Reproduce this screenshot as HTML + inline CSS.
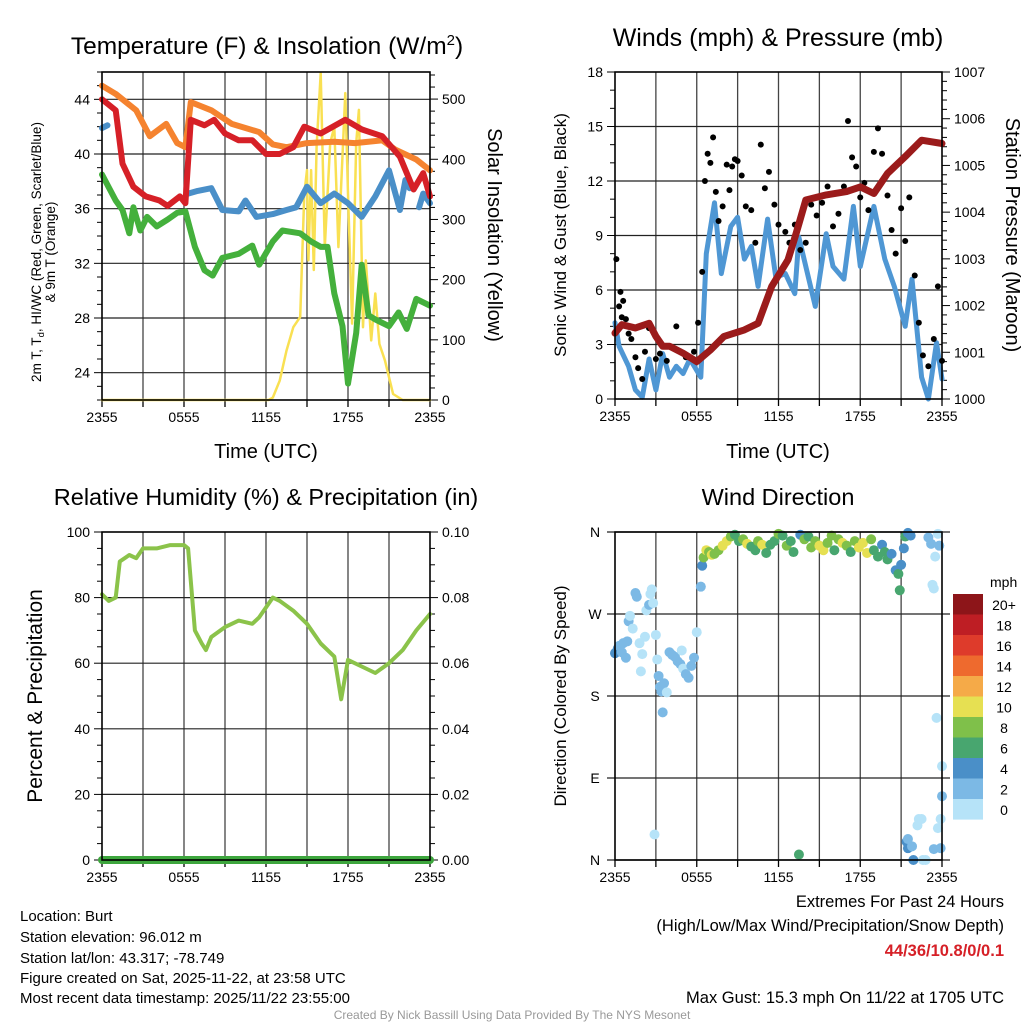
<!DOCTYPE html>
<html><head><meta charset="utf-8"><style>
html,body{margin:0;padding:0;background:#fff;}
svg{display:block;font-family:"Liberation Sans",sans-serif;}
</style></head><body>
<svg id="fig" width="1024" height="1024" viewBox="0 0 1024 1024" xmlns="http://www.w3.org/2000/svg">
<g id="layer"></g>
<text x="267" y="54" font-size="24.5" text-anchor="middle">Temperature (F) &amp; Insolation (W/m<tspan dy="-9" font-size="15">2</tspan><tspan dy="9">)</tspan></text>
<text x="778" y="46" font-size="25" text-anchor="middle">Winds (mph) &amp; Pressure (mb)</text>
<text x="266" y="505" font-size="23.5" text-anchor="middle">Relative Humidity (%) &amp; Precipitation (in)</text>
<text x="778" y="505" font-size="23.5" text-anchor="middle">Wind Direction</text>
<text x="266" y="458" font-size="20" text-anchor="middle">Time (UTC)</text>
<text x="778" y="458" font-size="20" text-anchor="middle">Time (UTC)</text>
<text transform="translate(41,252) rotate(-90)" font-size="13.5" text-anchor="middle">2m T, T<tspan dy="3" font-size="9.5">d</tspan><tspan dy="-3">, HI/WC (Red, Green, Scarlet/Blue)</tspan></text>
<text transform="translate(55,252) rotate(-90)" font-size="13.5" text-anchor="middle">&amp; 9m T (Orange)</text>
<text transform="translate(488,235) rotate(90)" font-size="20" text-anchor="middle">Solar Insolation (Yellow)</text>
<text transform="translate(566,235) rotate(-90)" font-size="17" text-anchor="middle">Sonic Wind &amp; Gust (Blue, Black)</text>
<text transform="translate(1006,235) rotate(90)" font-size="20" text-anchor="middle">Station Pressure (Maroon)</text>
<text transform="translate(42,696) rotate(-90)" font-size="21" text-anchor="middle">Percent &amp; Precipitation</text>
<text transform="translate(566,696) rotate(-90)" font-size="17" text-anchor="middle">Direction (Colored By Speed)</text>
<g font-size="15">
<text x="20" y="921">Location: Burt</text>
<text x="20" y="942">Station elevation: 96.012 m</text>
<text x="20" y="963">Station lat/lon: 43.317; -78.749</text>
<text x="20" y="983">Figure created on Sat, 2025-11-22, at 23:58 UTC</text>
<text x="20" y="1003">Most recent data timestamp: 2025/11/22 23:55:00</text>
</g>
<g font-size="16.5" text-anchor="end">
<text x="1004" y="907">Extremes For Past 24 Hours</text>
<text x="1004" y="931">(High/Low/Max Wind/Precipitation/Snow Depth)</text>
<text x="1004" y="956" fill="#d62027" font-weight="bold">44/36/10.8/0/0.1</text>
<text x="1004" y="1003">Max Gust: 15.3 mph On 11/22 at 1705 UTC</text>
</g>
<text x="512" y="1019" font-size="12" fill="#999" text-anchor="middle">Created By Nick Bassill Using Data Provided By The NYS Mesonet</text>
</svg>
<script>
// ---- data ----
const xTickLabels = ["2355","0555","1155","1755","2355"];
const orangeT = [0,1,2.5,3.5,4.7,5.5,6.1,6.5,8,9.5,11.5,12.5,13.5,15,17,18.5,20.5,21.5,23,24];
const orangeV = [45.0,44.4,43.2,41.3,42.2,40.8,40.5,43.8,43.2,42.2,41.6,40.7,40.5,40.8,40.9,40.8,41.0,40.3,39.6,38.8];
const redT = [0,1,1.5,2.3,3.2,4.2,4.8,5.7,6.1,6.5,7.5,8.2,9,10,11,12,13,14,14.8,16,17.8,19,20.5,21.8,22.8,23.5,24];
const redV = [44,43.2,39.3,37.6,36.9,36.6,36.2,36.9,36.4,42.5,42.1,42.5,41.5,41,41,40,40,40.5,42,41.5,42.5,41.8,41.3,39.8,37.4,38.6,36.9];
const blueT = [0,0.4,0.45,6.3,7,8,8.8,10,10.5,11.3,12.5,13.5,14.2,15,16,17,18,19,20,21,21.8,22.2,22.5,22.6,23.2,23.5,24];
const blueV = [41.9,42.1,null,37.1,37.3,37.5,35.9,35.8,36.6,35.4,35.6,35.9,36.1,37.6,36.4,37.1,36.4,35.4,36.9,38.8,35.9,38.1,37.5,null,36.1,37.1,36.4];
const greenT = [0,1,1.5,2,2.3,2.8,3.3,4,4.8,5.5,6.1,6.8,7.5,8.1,8.8,10,11,11.5,12.5,13.2,14.5,15.3,16,16.5,17,17.6,18,18.6,19,19.5,20,21,21.7,22.3,23,24];
const greenV = [38.5,36.6,35.9,34.2,36.1,34.4,35.4,34.7,35.2,35.7,35.8,33.2,31.5,31.1,32.4,32.7,33.3,31.9,33.6,34.4,34.2,33.6,33.2,33.2,29.8,27.4,23.2,26.9,31.9,28.2,27.9,27.4,28.4,27.2,29.4,28.9];
const solarT = [0,12.2,12.5,13,13.5,14,14.5,14.8,15,15.1,15.3,15.5,15.7,16,16.3,16.7,17,17.3,17.8,18,18.3,18.6,18.8,19.1,19.3,19.7,20,20.3,20.7,21.3,22,24];
const solarV = [0,0,4,32,82,121,138,343,382,232,382,216,421,543,254,427,454,254,510,343,127,427,482,121,232,99,177,93,66,10,0,0];
const windT = [0,0.3,1,1.5,2,2.5,3,3.5,4,4.5,5,5.5,6.3,6.7,7.3,7.8,8.5,9,9.5,10,10.5,11.2,11.8,12.5,13.2,13.5,14,14.7,15.5,16,16.8,17.5,18,19,19.8,20.5,21.3,21.8,22.5,23,23.6,24];
const windV = [4.2,2.9,1.8,0.5,0.1,2.2,0.5,2.5,1.2,1.8,1.4,2.2,1.2,8,10.8,6.9,9.5,10,7.7,8.4,6.2,9.9,6.7,6.9,5.8,8.9,7.3,5.1,9.1,7.3,6.6,10.6,7.3,10.6,7.7,6.2,4.0,6.6,1.2,0,3.1,1.1];
const pressT = [0,0.5,1.5,2.5,3,3.5,4,5,6,7,8,9.5,10.5,11.5,12.7,13.3,14,15.5,17,18,19,20,21.3,22.5,24];
const pressV = [1001.41,1001.59,1001.52,1001.62,1001.34,1001.13,1001.13,1000.98,1000.80,1001.05,1001.34,1001.48,1001.62,1002.41,1002.98,1003.55,1004.26,1004.37,1004.44,1004.54,1004.40,1004.83,1005.19,1005.54,1005.47];
const gustT = [0.1,0.3,0.4,0.5,0.6,0.8,1.0,1.2,1.5,1.7,2.0,2.2,2.5,3.0,3.3,3.8,4.5,5.2,5.8,6.1,6.4,6.6,6.8,7.0,7.2,7.4,7.6,7.9,8.2,8.4,8.6,8.8,9.0,9.3,9.6,10.0,10.3,10.7,11.0,11.3,11.7,12.0,12.5,12.8,13.2,13.6,14.0,14.4,14.8,15.2,15.6,16.0,16.4,16.8,17.1,17.4,17.7,18.0,18.3,18.6,19.0,19.3,19.6,20.0,20.3,20.6,21.0,21.3,21.6,22.0,22.3,22.6,23.0,23.4,23.7,24.0];
const gustV = [7.7,5.1,5.9,4.5,5.4,4.4,3.6,3.3,2.3,1.7,1.1,2.6,3.9,2.2,2.5,2.1,4.0,2.3,2.6,4.2,7.0,12.0,13.5,13.0,14.4,11.4,9.8,10.6,12.9,11.5,12.8,13.2,13.1,12.3,10.6,10.4,8.6,14.0,11.6,12.5,10.7,9.6,9.2,8.6,9.6,8.2,8.6,10.7,10.1,10.8,11.7,9.5,10.2,11.7,15.3,13.3,12.8,11.1,11.9,10.4,13.6,14.9,13.5,11.2,9.3,8.0,10.5,8.7,11.1,6.8,4.2,2.4,1.8,3.3,6.2,2.1];
const rhT = [0,0.5,1,1.3,2,2.5,3,4,5,6,6.3,6.8,7.3,7.6,8,9,10,11,11.5,12.5,13,14,15,16,17,17.5,18,19,20,21,22,23,24];
const rhV = [81,79,80,91,93,92,95,95,96,96,95,70,66,64,68,71,73,72,74,80,79,76,72,66,62,49,61,59,57,60,64,70,75];
const precipT = [0,24];
const precipV = [0,0];
const dirT = [0.0,0.2,0.3,0.5,0.6,0.8,0.9,1.0,1.1,1.3,1.5,1.6,1.8,2.0,1.9,2.2,2.3,2.5,2.6,2.7,2.8,2.9,3.0,3.1,3.2,3.3,3.4,3.5,3.6,3.8,4.0,4.2,4.4,4.6,4.8,4.9,5.0,5.2,5.4,5.6,5.8,6.0,6.3,6.4,6.5,6.7,6.9,7.1,7.3,7.6,7.9,8.2,8.5,8.8,9.1,9.4,9.7,10.0,10.3,10.5,10.8,11.1,11.4,11.7,12.0,12.3,12.6,12.9,13.1,13.5,13.6,13.9,14.2,14.4,14.7,15.0,15.3,15.6,15.9,16.1,16.4,16.7,17.0,17.3,17.6,17.9,18.2,18.5,18.8,19.0,19.3,19.6,19.8,20.0,20.3,20.6,20.8,20.9,21.0,21.2,21.3,21.5,21.7,21.4,21.5,21.5,21.8,21.9,22.2,22.3,22.5,22.6,22.8,23.0,23.2,23.3,23.4,23.5,23.6,23.7,23.8,23.9,23.9,24.0,24.0,23.7,23.4];
const dirD = [227,232,235,228,238,222,240,262,268,254,293,289,238,226,207,245,274,280,292,297,282,28,247,220,202,190,185,162,194,184,228,225,223,218,215,230,210,204,200,213,222,250,300,323,332,340,338,335,336,340,345,350,355,357,350,352,347,344,340,350,346,337,346,350,358,356,345,350,338,6,357,352,355,343,350,345,340,348,356,340,352,348,345,338,350,343,348,337,352,340,333,346,338,330,336,318,314,296,324,342,355,359,356,20,13,23,15,0,38,45,45,0,0,354,347,302,298,333,156,358,345,13,45,70,103,35,12];
const dirS = [4,4,3,3,2,2,2,2,1,1,2,2,1,1,1,1,1,2,1,0,0,0,1,1,3,3,2,3,2,1,2,3,2,3,2,1,1,2,3,2,2,1,3,4,8,10,8,10,8,8,10,10,8,6,6,8,10,6,6,8,10,6,6,6,8,6,8,6,6,6,4,8,6,8,8,10,10,8,8,6,8,10,8,6,8,10,10,10,8,6,6,4,6,6,4,4,6,6,4,4,6,5,4,4,4,3,3,5,1,1,0,0,0,3,2,0,0,0,0,1,2,2,1,2,0,0,2];
const speedBins = ["0","2","4","6","8","10","12","14","16","18","20+"];
const speedColors = ["#b6e3f8","#7cb9e5","#4a8fc8","#48a66f","#7fc04a","#e6e052","#f5aa48","#ee6a2e","#de3b2b","#be1e24","#8d1519"];

// ---- helpers ----
const NS="http://www.w3.org/2000/svg";
const layer=document.getElementById('layer');
function mk(tag,attrs,parent){const e=document.createElementNS(NS,tag);for(const k in attrs)e.setAttribute(k,attrs[k]);(parent||layer).appendChild(e);return e;}
function scale(d0,d1,r0,r1){return v=>r0+(v-d0)/(d1-d0)*(r1-r0);}
function pathFrom(T,V,xs,ys){let d="",pen=false;for(let i=0;i<T.length;i++){if(V[i]===null){pen=false;continue;}d+=(pen?"L":"M")+xs(T[i]).toFixed(1)+","+ys(V[i]).toFixed(1);pen=true;}return d;}

function panel(name,L,R,Tp,B){
  const g=mk('g',{});
  
  
  const xs=scale(0,24,L,R);
  for(let i=1;i<8;i++){const x=xs(i*3);const ln=mk('line',{x1:x,x2:x,y1:Tp,y2:B,stroke:"#444","stroke-width":1.3},g);
    }
  for(let i=0;i<=8;i++){const x=xs(i*3);const tk=mk('line',{x1:x,x2:x,y1:B,y2:B+7,stroke:"#000","stroke-width":1.3},g);
    }
  for(let i=0;i<5;i++){const t=mk('text',{x:xs(i*6),y:B+22,"font-size":14,"text-anchor":"middle"},g);t.textContent=xTickLabels[i];
    }
  return {g,xs};
}
function yaxis(g,name,side,L,R,Tp,B,d0,d1,major,minor,fmt,grid){
  const ys=scale(d0,d1,B,Tp);
  const x=side==='left'?L:R, dir=side==='left'?-1:1;
  const start=Math.ceil(d0/minor-1e-9)*minor;
  for(let v=start;v<=d1+1e-9;v+=minor){
    const y=ys(v);const isMaj=Math.abs(v/major-Math.round(v/major))<1e-6;
    const tk=mk('line',{x1:x,x2:x+dir*(isMaj?8:5),y1:y,y2:y,stroke:"#000","stroke-width":1},g);
    
    if(isMaj){
      if(grid&&y>Tp+1&&y<B-1){const gl=mk('line',{x1:L,x2:R,y1:y,y2:y,stroke:"#222","stroke-width":1.2},g);
        }
      const t=mk('text',{x:x+dir*12,y:y+5,"font-size":14,"text-anchor":side==='left'?'end':'start'},g);t.textContent=fmt(v);
      
    }
  }
  return ys;
}
function frame(g,name,L,R,Tp,B){const r=mk('rect',{x:L,y:Tp,width:R-L,height:B-Tp,fill:"none",stroke:"#000","stroke-width":1.6},g);
  }
function line(g,name,T,V,xs,ys,color,w){const p=mk('path',{d:pathFrom(T,V,xs,ys),fill:"none",stroke:color,"stroke-width":w,"stroke-linejoin":"round","stroke-linecap":"round"},g);
  return p;}

// ---- panel 1: temperature ----
(function(){const L=102,R=430,Tp=72,B=400;
  const {g,xs}=panel('temperature',L,R,Tp,B);
  const ys=yaxis(g,'temp-y-axis','left',L,R,Tp,B,22,46,4,1,v=>String(v),true);
  const ys2=yaxis(g,'solar-y-axis','right',L,R,Tp,B,0,545,100,20,v=>String(v),false);
  line(g,'solar-insolation-line',solarT,solarV,xs,ys2,"#f9e052",2.5);
  line(g,'dewpoint-line',greenT,greenV,xs,ys,"#44b03c",6);
  line(g,'heat-index-windchill-line',blueT,blueV,xs,ys,"#4a8fc8",6);
  line(g,'temp-9m-line',orangeT,orangeV,xs,ys,"#f5832f",6);
  line(g,'temp-2m-line',redT,redV,xs,ys,"#d62027",6);
  frame(g,'temperature',L,R,Tp,B);
})();

// ---- panel 2: winds ----
(function(){const L=615,R=942,Tp=72,B=399;
  const {g,xs}=panel('winds',L,R,Tp,B);
  const ys=yaxis(g,'wind-y-axis','left',L,R,Tp,B,0,18,3,1,v=>String(v),true);
  const ys2=yaxis(g,'pressure-y-axis','right',L,R,Tp,B,1000,1007,1,0.2,v=>String(Math.round(v)),false);
  line(g,'sonic-wind-line',windT,windV,xs,ys,"#4f97d4",5);
  for(let i=0;i<gustT.length;i++){const c=mk('circle',{cx:xs(gustT[i]),cy:ys(gustV[i]),r:3,fill:"#000"},g);
    }
  line(g,'station-pressure-line',pressT,pressV,xs,ys2,"#9b1b1b",7);
  frame(g,'winds',L,R,Tp,B);
})();

// ---- panel 3: humidity ----
(function(){const L=102,R=430,Tp=532,B=860;
  const {g,xs}=panel('humidity',L,R,Tp,B);
  const ys=yaxis(g,'humidity-y-axis','left',L,R,Tp,B,0,100,20,5,v=>String(v),true);
  const ys2=yaxis(g,'precip-y-axis','right',L,R,Tp,B,0,0.1,0.02,0.005,v=>v.toFixed(2),false);
  line(g,'relative-humidity-line',rhT,rhV,xs,ys,"#8bc34a",4);
  line(g,'precipitation-line',precipT,precipV,xs,ys2,"#3da63d",8);
  frame(g,'humidity',L,R,Tp,B);
})();

// ---- panel 4: wind direction ----
(function(){const L=615,R=942,Tp=532,B=860;
  const {g,xs}=panel('direction',L,R,Tp,B);
  const ys=scale(0,360,B,Tp);
  const dl=["N","E","S","W","N"];
  for(let i=0;i<5;i++){const y=ys(i*90);
    if(i>0&&i<4){const gl=mk('line',{x1:L-8,x2:R+8,y1:y,y2:y,stroke:"#222","stroke-width":1.2},g);
      }
    else{const tk=mk('line',{x1:L-8,x2:R+8,y1:y,y2:y,stroke:"#222","stroke-width":1.2},g);
      }
    const t=mk('text',{x:L-20,y:y+5,"font-size":14,"text-anchor":"middle"},g);t.textContent=dl[i];
    }
  for(let i=0;i<dirT.length;i++){const b=Math.min(10,Math.floor(dirS[i]/2));
    const c=mk('circle',{cx:xs(dirT[i]),cy:ys(dirD[i]),r:5,fill:speedColors[b]},g);
    }
  frame(g,'direction',L,R,Tp,B);
  const lg=mk('g',{});
  
  
  const lt=mk('text',{x:990,y:587,"font-size":14},lg);lt.textContent="mph";
  
  for(let i=0;i<11;i++){const k=10-i;const y=594+i*20.5;
    const r=mk('rect',{x:953,y:y,width:30,height:20.6,fill:speedColors[k]},lg);
    
    const t=mk('text',{x:1004,y:y+16,"font-size":14,"text-anchor":"middle"},lg);t.textContent=speedBins[k];
    }
})();
</script>
</body></html>
